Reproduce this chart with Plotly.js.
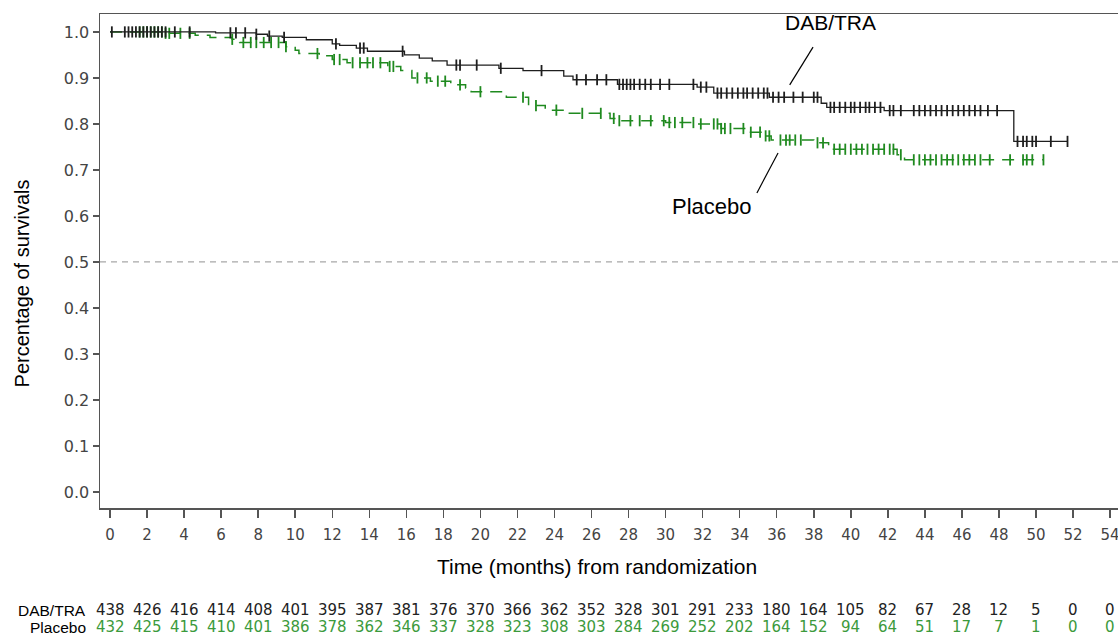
<!DOCTYPE html>
<html>
<head>
<meta charset="utf-8">
<script src="https://cdn.plot.ly/plotly-3.0.1.min.js"></script>
<style>
html,body{margin:0;padding:0;overflow:hidden;background:#fff;}
#chart{width:1130px;height:637px;}
</style>
</head>
<body>
<div id="chart"></div>
<script>
// ---- Data ----
const monthTicks = [0,2,4,6,8,10,12,14,16,18,20,22,24,26,28,30,32,34,36,38,40,42,44,46,48,50,52,54];
const survTicks = [0,0.1,0.2,0.3,0.4,0.5,0.6,0.7,0.8,0.9,1.0];
const survTickText = ["0.0","0.1","0.2","0.3","0.4","0.5","0.6","0.7","0.8","0.9","1.0"];

// Kaplan-Meier steps, DAB/TRA
const dabTime = [0, 5.7, 7.9, 8.5, 9.3, 10.6, 12.0, 12.4, 13.3, 13.9, 15.9, 16.7, 17.4, 18.2, 21.0, 22.3, 24.5, 25.0, 27.4, 31.7, 32.6, 35.6, 38.4, 38.7, 41.8, 48.8];
const dabSurv = [1.0, 0.998, 0.995, 0.991, 0.988, 0.983, 0.974, 0.971, 0.965, 0.958, 0.950, 0.943, 0.937, 0.928, 0.921, 0.916, 0.904, 0.896, 0.886, 0.880, 0.867, 0.858, 0.845, 0.836, 0.829, 0.762];
const dabCensor = [0.1, 0.8, 1.0, 1.2, 1.4, 1.6, 1.8, 2.0, 2.2, 2.4, 2.6, 2.8, 3.0, 3.5, 4.3, 6.5, 6.8, 7.3, 7.9, 8.6, 9.4, 12.2, 13.5, 13.7, 15.8, 18.7, 18.9, 19.8, 21.1, 23.3, 25.2, 25.7, 26.3, 26.8, 27.5, 27.7, 27.9, 28.1, 28.3, 28.6, 28.9, 29.2, 29.7, 30.2, 31.5, 31.9, 32.2, 32.8, 33.0, 33.3, 33.6, 33.9, 34.2, 34.4, 34.7, 35.0, 35.3, 35.5, 35.8, 36.1, 36.4, 36.9, 37.4, 38.0, 38.2, 38.9, 39.1, 39.4, 39.7, 40.0, 40.2, 40.5, 40.8, 41.0, 41.3, 41.6, 42.1, 42.3, 42.7, 43.4, 43.7, 44.0, 44.3, 44.6, 44.9, 45.2, 45.5, 45.8, 46.1, 46.4, 46.7, 47.0, 47.4, 47.9, 49.0, 49.3, 49.5, 49.8, 50.0, 50.8, 51.7];

// Kaplan-Meier steps, Placebo
const plcTime = [0, 3.0, 4.6, 5.4, 6.6, 7.0, 9.5, 10.0, 10.2, 11.3, 12.0, 12.8, 15.0, 15.7, 16.3, 17.3, 18.4, 19.2, 19.5, 21.4, 22.6, 23.5, 24.7, 27.0, 27.5, 30.0, 31.7, 33.0, 34.4, 35.2, 35.7, 38.0, 38.8, 39.0, 42.5, 42.9];
const plcSurv = [1.0, 0.997, 0.993, 0.988, 0.984, 0.977, 0.968, 0.960, 0.953, 0.948, 0.940, 0.933, 0.925, 0.916, 0.900, 0.893, 0.885, 0.878, 0.870, 0.858, 0.840, 0.830, 0.823, 0.812, 0.807, 0.803, 0.800, 0.790, 0.782, 0.774, 0.765, 0.759, 0.751, 0.745, 0.733, 0.722];
const plcCensor = [1.6, 1.8, 2.0, 2.2, 2.4, 2.6, 2.8, 3.0, 3.2, 3.8, 4.3, 6.6, 7.2, 7.6, 7.9, 8.3, 8.7, 9.1, 9.5, 11.2, 12.1, 12.4, 13.1, 13.5, 13.9, 14.2, 14.6, 15.1, 15.3, 16.6, 17.1, 17.7, 18.1, 18.9, 20.0, 22.3, 23.0, 24.1, 25.5, 26.5, 27.2, 27.5, 28.1, 28.6, 29.2, 29.9, 30.2, 30.5, 30.9, 31.5, 31.9, 32.6, 32.8, 33.0, 33.2, 33.5, 34.2, 34.6, 35.1, 35.4, 35.6, 36.2, 36.5, 36.7, 37.0, 37.3, 38.2, 38.5, 39.1, 39.4, 39.7, 40.0, 40.3, 40.6, 40.9, 41.2, 41.5, 41.8, 42.1, 42.3, 42.7, 43.4, 43.7, 44.0, 44.3, 44.6, 44.9, 45.2, 45.5, 45.8, 46.1, 46.4, 46.7, 47.0, 47.5, 48.6, 49.3, 49.5, 49.8, 50.4];

// Number at risk
const riskDab = [438,426,416,414,408,401,395,387,381,376,370,366,362,352,328,301,291,233,180,164,105,82,67,28,12,5,0,0];
const riskPlc = [432,425,415,410,401,386,378,362,346,337,328,323,308,303,284,269,252,202,164,152,94,64,51,17,7,1,0,0];

const groupNames = ["DAB/TRA", "Placebo"];

// ---- Styles ----
const BLACK = "#1e1e1e";
const GREEN = "#1f8a1f";
const GREEN_TXT = "#3c9a3c";
const LABELFONT = "Liberation Sans, Arial, sans-serif";

function stepAt(times, surv, t) {
  let v = surv[0];
  for (let i = 0; i < times.length; i++) { if (times[i] <= t) v = surv[i]; }
  return v;
}
function stepTrace(times, surv, censor) {
  const last = censor[censor.length - 1];
  return {x: times.concat([last]), y: surv.concat([surv[surv.length - 1]])};
}

const dabLine = stepTrace(dabTime, dabSurv, dabCensor);
const plcLine = stepTrace(plcTime, plcSurv, plcCensor);

const traces = [
  {x: plcLine.x, y: plcLine.y, mode: "lines", line: {shape: "hv", color: GREEN, width: 1.5, dash: "12px,8px"}, hoverinfo: "skip", showlegend: false},
  {x: plcCensor, y: plcCensor.map(t => stepAt(plcTime, plcSurv, t)), mode: "markers",
   marker: {symbol: "line-ns", size: 8, line: {color: GREEN, width: 1.8}}, showlegend: false},
  {x: dabLine.x, y: dabLine.y, mode: "lines", line: {shape: "hv", color: BLACK, width: 1.3}, hoverinfo: "skip", showlegend: false},
  {x: dabCensor, y: dabCensor.map(t => stepAt(dabTime, dabSurv, t)), mode: "markers",
   marker: {symbol: "line-ns", size: 8, line: {color: BLACK, width: 1.8}}, showlegend: false}
];

// ---- Annotations ----
const annotations = [];
monthTicks.forEach((m, i) => {
  annotations.push({x: m, y: -0.2065, xref: "x", yref: "paper", text: String(riskDab[i]), showarrow: false,
    xanchor: "center", yanchor: "middle", font: {family: "DejaVu Sans", size: 15, color: "#222"}});
  annotations.push({x: m, y: -0.2409, xref: "x", yref: "paper", text: String(riskPlc[i]), showarrow: false,
    xanchor: "center", yanchor: "middle", font: {family: "DejaVu Sans", size: 15, color: GREEN_TXT}});
});
annotations.push({x: -0.012, y: -0.2065, xref: "paper", yref: "paper", text: groupNames[0], showarrow: false,
  xanchor: "right", yanchor: "middle", font: {family: LABELFONT, size: 15.5, color: "#000"}});
annotations.push({x: -0.012, y: -0.2409, xref: "paper", yref: "paper", text: groupNames[1], showarrow: false,
  xanchor: "right", yanchor: "middle", font: {family: LABELFONT, size: 15.5, color: "#000"}});

// axis titles
annotations.push({x: -0.076, y: 0.455, xref: "paper", yref: "paper", text: "Percentage of survivals", textangle: -90,
  showarrow: false, xanchor: "center", yanchor: "middle", font: {family: LABELFONT, size: 20, color: "#000"}});
annotations.push({x: 0.4854, y: -0.119, xref: "paper", yref: "paper", text: "Time (months) from randomization",
  showarrow: false, xanchor: "center", yanchor: "middle", font: {family: LABELFONT, size: 21, color: "#000"}});

// curve labels
annotations.push({x: 38.9, y: 1.021, xref: "x", yref: "y", text: "DAB/TRA", showarrow: false,
  xanchor: "center", yanchor: "middle", font: {family: LABELFONT, size: 21, color: "#000"}});
annotations.push({x: 32.5, y: 0.62, xref: "x", yref: "y", text: "Placebo", showarrow: false,
  xanchor: "center", yanchor: "middle", font: {family: LABELFONT, size: 22, color: "#000"}});

const shapes = [
  {type: "line", xref: "paper", yref: "y", x0: 0, x1: 1, y0: 0.5, y1: 0.5, line: {color: "#a8a8a8", width: 1.3, dash: "6px,5px"}},
  {type: "line", xref: "x", yref: "y", x0: 37.96, y0: 0.967, x1: 36.7, y1: 0.885, line: {color: "#000", width: 1.2}},
  {type: "line", xref: "x", yref: "y", x0: 36.07, y0: 0.737, x1: 34.93, y1: 0.65, line: {color: "#000", width: 1.2}}
];

const layout = {
  width: 1130, height: 637,
  margin: {l: 100, r: 6, t: 14, b: 129, pad: 0},
  paper_bgcolor: "#fff", plot_bgcolor: "#fff",
  showlegend: false,
  xaxis: {range: [-0.54, 54.75], tickvals: monthTicks, ticktext: monthTicks.map(String), ticks: "outside", ticklen: 8, tickwidth: 1.5,
    tickcolor: "#555", showline: true, linecolor: "#555", linewidth: 1.5, mirror: true, showgrid: false, zeroline: false,
    tickfont: {family: "DejaVu Sans", size: 15, color: "#444"}, ticklabelstandoff: 4, fixedrange: true},
  yaxis: {range: [-0.035, 1.039], tickvals: survTicks, ticktext: survTickText, ticks: "outside", ticklen: 6, tickwidth: 1.5,
    tickcolor: "#555", showline: true, linecolor: "#555", linewidth: 1.5, mirror: true, showgrid: false, zeroline: false,
    tickfont: {family: "DejaVu Sans", size: 16, color: "#444"}, fixedrange: true},
  annotations: annotations,
  shapes: shapes
};

Plotly.newPlot("chart", traces, layout, {displayModeBar: false, staticPlot: true});
</script>
</body>
</html>
